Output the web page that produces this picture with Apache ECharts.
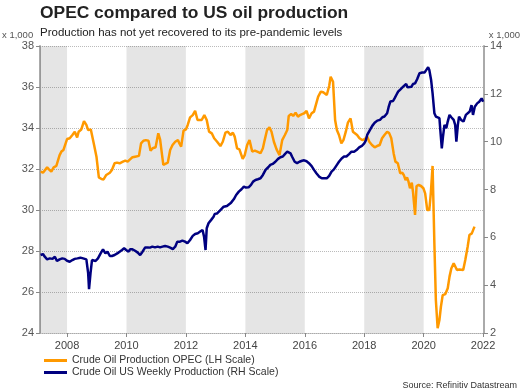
<!DOCTYPE html>
<html><head><meta charset="utf-8">
<script src="https://cdn.jsdelivr.net/npm/echarts@6/dist/echarts.min.js"></script>
<style>html,body{margin:0;padding:0;background:#fff}#c{width:524px;height:392px}</style>
</head><body><div id="c"></div>
<script>
const xTicks = [2008, 2010, 2012, 2014, 2016, 2018, 2020, 2022];
const shadedBands = [[2007.09, 2008], [2010, 2012], [2014, 2016], [2018, 2020]];

const opecDates = [2007.11,2007.19,2007.25,2007.33,2007.39,2007.47,2007.55,2007.64,2007.70,2007.75,2007.81,2007.88,2007.92,
2008.00,2008.09,2008.18,2008.26,2008.34,2008.39,2008.48,2008.57,2008.65,2008.71,2008.80,2008.84,2008.91,2008.99,
2009.07,2009.16,2009.23,2009.32,2009.44,2009.51,2009.60,2009.68,2009.77,2009.88,2009.96,
2010.04,2010.12,2010.20,2010.29,2010.34,2010.42,2010.49,2010.57,2010.65,2010.74,2010.81,2010.88,2010.98,
2011.07,2011.13,2011.19,2011.24,2011.30,2011.39,2011.47,2011.55,2011.64,2011.73,2011.78,2011.84,2011.92,
2012.00,2012.06,2012.14,2012.23,2012.31,2012.39,2012.45,2012.53,2012.62,2012.70,2012.78,2012.87,2012.95,
2013.05,2013.16,2013.24,2013.33,2013.41,2013.50,2013.58,2013.64,2013.72,2013.80,2013.91,2013.98,
2014.06,2014.14,2014.23,2014.32,2014.40,2014.51,2014.59,2014.65,2014.73,2014.81,2014.88,2014.96,
2015.05,2015.15,2015.24,2015.33,2015.41,2015.46,2015.54,2015.61,2015.69,2015.77,2015.84,2015.91,2015.98,
2016.06,2016.14,2016.23,2016.31,2016.37,2016.45,2016.54,2016.62,2016.68,2016.74,2016.82,2016.87,2016.95,
2017.02,2017.08,2017.15,2017.23,2017.30,2017.38,2017.45,2017.54,2017.62,2017.68,2017.76,2017.84,2017.93,
2018.01,2018.10,2018.17,2018.26,2018.35,2018.43,2018.52,2018.60,2018.68,2018.77,2018.84,2018.91,2018.99,
2019.05,2019.13,2019.21,2019.28,2019.33,2019.39,2019.44,2019.49,2019.54,2019.60,2019.64,2019.71,2019.76,2019.83,2019.91,2019.99,
2020.05,2020.12,2020.19,2020.24,2020.30,2020.36,2020.41,2020.47,2020.53,2020.58,2020.64,2020.73,2020.81,2020.87,2020.93,
2021.01,2021.06,2021.12,2021.20,2021.26,2021.33,2021.40,2021.48,2021.54,2021.62,2021.71];
const opecValues = [31.87,31.82,31.90,32.08,31.98,31.87,32.08,32.15,32.12,32.68,32.85,32.93,32.85,
33.46,33.50,33.66,33.82,33.54,33.82,33.93,34.34,34.15,33.90,33.93,33.87,33.17,32.60,
31.59,31.51,31.49,31.71,31.82,31.95,32.28,32.31,32.28,32.36,32.41,
32.36,32.47,32.57,32.60,32.68,32.64,33.25,33.38,33.41,33.38,32.89,33.01,33.06,
33.74,33.45,32.76,32.20,32.28,32.31,32.93,33.17,33.33,33.41,33.25,33.09,33.87,
33.93,34.15,34.52,34.63,34.84,34.39,34.47,34.39,34.63,34.39,33.82,33.74,33.50,
33.33,33.12,33.33,33.77,33.82,33.66,33.77,33.58,33.01,32.96,32.49,32.68,
33.17,33.41,32.85,32.90,32.85,32.77,33.01,33.41,33.90,34.03,33.82,33.33,
32.96,32.68,33.41,33.66,33.90,34.59,34.68,34.59,34.75,34.55,34.63,34.68,34.72,
34.83,34.47,34.72,34.80,34.80,35.53,35.77,35.74,35.69,35.61,36.05,36.50,36.26,
34.39,33.90,33.66,33.25,33.41,33.82,34.26,34.47,33.82,33.90,33.66,33.50,33.41,
33.45,33.58,33.33,33.17,33.06,33.12,33.17,33.50,33.66,33.82,33.75,33.50,32.76,
32.36,32.28,31.79,31.82,31.71,31.46,31.59,31.38,31.06,31.33,30.89,29.76,31.17,31.22,31.17,31.06,
30.81,30.00,30.00,30.81,32.15,28.37,25.61,24.23,24.63,25.28,25.85,25.90,26.18,26.75,27.15,
27.40,27.48,27.07,27.10,27.02,27.07,27.56,28.21,28.78,28.86,29.19];

const usDates = [2007.11,2007.19,2007.25,2007.33,2007.42,2007.51,2007.59,2007.66,2007.75,2007.84,2007.92,
2008.00,2008.09,2008.18,2008.26,2008.35,2008.45,2008.54,2008.59,2008.65,2008.71,2008.74,2008.79,2008.84,2008.90,2008.96,
2009.04,2009.13,2009.21,2009.29,2009.36,2009.44,2009.51,2009.60,2009.69,2009.77,2009.85,2009.92,2009.99,
2010.07,2010.12,2010.20,2010.29,2010.38,2010.46,2010.54,2010.63,2010.72,2010.79,2010.87,2010.96,
2011.05,2011.13,2011.21,2011.30,2011.39,2011.47,2011.56,2011.64,2011.71,2011.80,2011.88,2011.97,
2012.05,2012.14,2012.23,2012.31,2012.40,2012.48,2012.56,2012.61,2012.66,2012.70,2012.76,2012.85,2012.93,2012.97,
2013.05,2013.16,2013.27,2013.38,2013.44,2013.52,2013.61,2013.69,2013.78,2013.87,2013.95,
2014.02,2014.11,2014.19,2014.26,2014.34,2014.42,2014.51,2014.59,2014.68,2014.77,2014.84,2014.92,
2015.01,2015.10,2015.18,2015.26,2015.33,2015.41,2015.46,2015.52,2015.57,2015.66,2015.74,2015.82,2015.91,2015.98,
2016.06,2016.14,2016.23,2016.31,2016.39,2016.48,2016.57,2016.65,2016.74,2016.82,2016.90,2016.98,
2017.08,2017.15,2017.24,2017.32,2017.40,2017.49,2017.57,2017.66,2017.74,2017.83,2017.92,
2018.00,2018.05,2018.10,2018.18,2018.27,2018.35,2018.44,2018.53,2018.61,2018.68,2018.77,2018.82,2018.88,2018.97,
2019.02,2019.08,2019.14,2019.22,2019.31,2019.41,2019.46,2019.52,2019.59,2019.64,2019.71,2019.78,2019.86,2019.95,
2020.03,2020.09,2020.15,2020.19,2020.25,2020.30,2020.36,2020.41,2020.47,2020.53,2020.56,2020.61,2020.65,2020.70,2020.76,2020.81,2020.87,2020.93,
2021.01,2021.06,2021.10,2021.15,2021.19,2021.26,2021.34,2021.42,2021.48,2021.55,2021.61,2021.66,2021.72,2021.80,2021.87,2021.95,2022.00];
const usValues = [5.26,5.30,5.19,5.08,5.12,5.10,5.19,5.01,5.08,5.12,5.10,
5.02,4.98,5.05,5.10,5.12,5.15,5.12,5.16,5.08,4.50,3.83,4.50,5.05,5.10,5.01,
5.12,5.33,5.50,5.33,5.40,5.22,5.22,5.26,5.33,5.40,5.47,5.54,5.47,
5.40,5.50,5.50,5.44,5.36,5.26,5.40,5.58,5.58,5.57,5.61,5.58,
5.61,5.58,5.61,5.64,5.61,5.57,5.51,5.61,5.82,5.82,5.86,5.82,
5.75,5.89,6.06,6.14,6.17,6.24,6.31,6.03,5.47,6.38,6.59,6.73,6.86,6.98,
7.00,7.14,7.28,7.31,7.28,7.45,7.59,7.77,7.91,8.01,8.12,
8.08,8.09,8.19,8.33,8.40,8.43,8.47,8.61,8.82,8.93,9.03,9.07,
9.16,9.28,9.35,9.38,9.48,9.58,9.58,9.51,9.38,9.16,9.10,9.16,9.20,9.22,
9.18,9.10,8.98,8.82,8.68,8.54,8.47,8.47,8.47,8.57,8.75,8.84,
9.03,9.16,9.30,9.38,9.38,9.48,9.58,9.58,9.65,9.76,9.82,
9.93,10.04,10.28,10.46,10.66,10.79,10.88,10.91,11.02,11.05,11.19,11.44,11.68,11.70,
11.81,11.95,12.09,12.19,12.30,12.41,12.27,12.19,12.30,12.41,12.44,12.61,12.86,12.89,
12.89,13.00,13.11,13.00,12.58,12.02,11.19,11.05,10.98,10.98,10.49,9.72,10.21,10.70,10.56,10.84,11.12,11.02,
10.91,10.70,10.00,10.70,11.05,10.91,10.84,11.12,11.19,11.26,11.53,11.12,11.46,11.60,11.67,11.81,11.67];

const opecName = 'Crude Oil Production OPEC (LH Scale)';
const usName = 'Crude Oil US Weekly Production (RH Scale)';
const opecColor = '#FF9900';
const usColor = '#000080';

const chart = echarts.init(document.getElementById('c'), null, {renderer: 'canvas'});
const font = 'Arial, "Liberation Sans", sans-serif';
chart.setOption({
  animation: false,
  textStyle: {fontFamily: font},
  title: [
    {text: 'OPEC compared to US oil production', left: 40, top: 5, padding: 0,
     textStyle: {fontSize: 17.4, fontWeight: 'bold', color: '#222', fontFamily: font}},
    {text: 'Production has not yet recovered to its pre-pandemic levels', left: 40, top: 27, padding: 0,
     textStyle: {fontSize: 11.5, fontWeight: 'normal', color: '#222', fontFamily: font}},
    {text: 'x 1,000', left: 2, top: 30, padding: 0, textStyle: {fontSize: 9.5, fontWeight: 'normal', color: '#555', fontFamily: font}},
    {text: 'x 1,000', right: 4, top: 30, padding: 0, textStyle: {fontSize: 9.5, fontWeight: 'normal', color: '#555', fontFamily: font}},
    {text: 'Source: Refinitiv Datastream', right: 7, top: 381, padding: 0, textStyle: {fontSize: 9, fontWeight: 'normal', color: '#333', fontFamily: font}}
  ],
  legend: {
    orient: 'vertical', left: 44, top: 355, itemWidth: 23, itemHeight: 3, itemGap: 1, padding: 0,
    icon: 'rect',
    textStyle: {fontSize: 10.5, color: '#333', fontFamily: font},
    data: [opecName, usName]
  },
  grid: {left: 40, right: 40, top: 46, bottom: 59},
  xAxis: {
    type: 'value', min: 2007.09, max: 2022.03,
    axisLine: {show: true, lineStyle: {color: '#aaa', type: 'dotted'}},
    axisTick: {show: true, length: 4, lineStyle: {color: '#888'}, customValues: xTicks},
    axisLabel: {color: '#444', fontSize: 11, margin: 7, customValues: xTicks, formatter: v => String(v)},
    splitLine: {show: false}
  },
  yAxis: [
    {type: 'value', min: 24, max: 38, interval: 2, position: 'left',
     axisLine: {show: true, lineStyle: {color: '#aaa', width: 2}},
     axisTick: {show: true, length: 4, lineStyle: {color: '#888'}},
     axisLabel: {color: '#555', fontSize: 11, margin: 6},
     splitLine: {show: true, lineStyle: {color: '#bbb', type: 'dotted'}}},
    {type: 'value', min: 2, max: 14, interval: 2, position: 'right',
     axisLine: {show: true, lineStyle: {color: '#aaa', width: 2}},
     axisTick: {show: true, length: 4, lineStyle: {color: '#888'}},
     axisLabel: {color: '#555', fontSize: 11, margin: 6},
     splitLine: {show: false}}
  ],
  series: [
    {name: opecName, type: 'line', yAxisIndex: 0, showSymbol: false, symbol: 'none',
     lineStyle: {color: opecColor, width: 2.5}, itemStyle: {color: opecColor},
     data: opecDates.map((d, i) => [d, opecValues[i]]),
     markArea: {silent: true, itemStyle: {color: 'rgba(0,0,0,0.1)'},
       data: shadedBands.map(b => [{xAxis: b[0]}, {xAxis: b[1]}])}},
    {name: usName, type: 'line', yAxisIndex: 1, showSymbol: false, symbol: 'none',
     lineStyle: {color: usColor, width: 2.5}, itemStyle: {color: usColor},
     data: usDates.map((d, i) => [d, usValues[i]])}
  ]
});
</script></body></html>
